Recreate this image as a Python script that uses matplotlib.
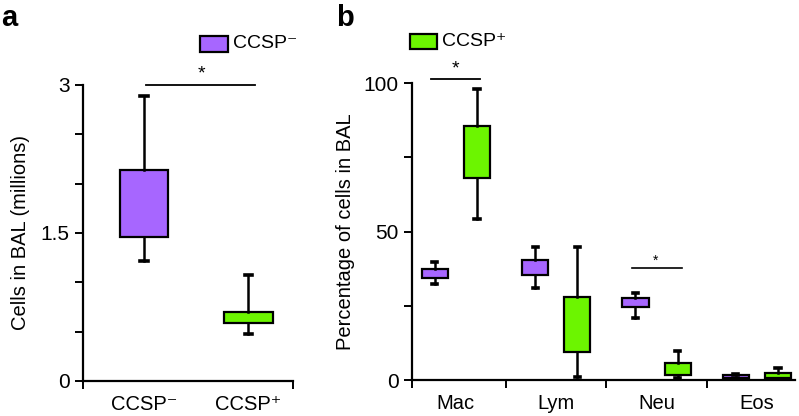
import matplotlib
matplotlib.use('Agg')
import matplotlib.pyplot as plt
from matplotlib.patches import Rectangle

plt.rcParams['font.family'] = ['Liberation Sans', 'DejaVu Sans']

PURPLE = '#A766FF'
GREEN = '#6CF500'

# panel a: total cells (millions)
a_groups = ['CCSP\u207b', 'CCSP\u207a']
a_whislo = [1.22, 0.48]
a_q1 = [1.46, 0.59]
a_q3 = [2.14, 0.70]
a_whishi = [2.89, 1.07]

# panel b: percentage of cells per cell type
b_cats = ['Mac', 'Lym', 'Neu', 'Eos']
neg_whislo = [32.3, 31.1, 21.0, 0.6]
neg_q1 = [34.5, 35.3, 24.6, 0.8]
neg_q3 = [37.3, 40.5, 27.5, 1.7]
neg_whishi = [39.7, 44.9, 29.2, 2.0]
pos_whislo = [54.2, 1.1, 0.8, 0.3]
pos_q1 = [68.0, 9.6, 1.7, 0.6]
pos_q3 = [85.6, 28.1, 5.6, 2.2]
pos_whishi = [98.0, 44.9, 9.9, 3.9]


def stats(lo, q1, q3, hi):
    return [dict(whislo=a, q1=b, med=b, q3=c, whishi=d, fliers=[])
            for a, b, c, d in zip(lo, q1, q3, hi)]


def draw_boxes(ax, st, pos, width, color, capfrac):
    bp = ax.bxp(st, positions=pos, widths=width, patch_artist=True,
                showfliers=False, manage_ticks=False,
                boxprops=dict(facecolor=color, edgecolor='black', linewidth=1.6),
                whiskerprops=dict(color='black', linewidth=1.8),
                capprops=dict(color='black', linewidth=2.6),
                medianprops=dict(visible=False))
    for c in bp['caps']:
        x = c.get_xdata()
        m = (x[0] + x[1]) / 2
        c.set_xdata([m - width * capfrac, m + width * capfrac])
    return bp


def style(ax):
    for s in ['top', 'right']:
        ax.spines[s].set_visible(False)
    for s in ['left', 'bottom']:
        ax.spines[s].set_linewidth(1.6)
    ax.tick_params(axis='both', which='both', width=1.4, length=6,
                   labelsize=15, direction='out')


fig = plt.figure(figsize=(7.99, 4.16), dpi=100)

# ---- panel a
ax1 = fig.add_axes([83 / 799, 1 - 381 / 416, 210 / 799, 296 / 416])
xa = list(range(len(a_groups)))
sa = stats(a_whislo, a_q1, a_q3, a_whishi)
draw_boxes(ax1, sa[:1], [xa[0]], 0.46, PURPLE, 0.08)
draw_boxes(ax1, sa[1:], [xa[1]], 0.46, GREEN, 0.08)
ax1.set_xlim(-0.584, 1.426)
ax1.set_ylim(0, 3)
ax1.set_yticks([0, 0.5, 1, 1.5, 2, 2.5, 3])
ax1.set_yticklabels(['0', '', '', '1.5', '', '', '3'])
ax1.set_xticks([-0.584, 1.426])
ax1.set_xticklabels(['', ''])
ax1.set_xticks(xa, minor=True)
ax1.set_xticklabels(a_groups, minor=True)
style(ax1)
ax1.tick_params(axis='x', which='minor', length=0, pad=10, labelsize=14.5)
ax1.set_ylabel('Cells in BAL (millions)', fontsize=14.5, labelpad=8)
ax1.plot([0.02, 1.06], [3.0, 3.0], color='black', lw=1.3, clip_on=False)
ax1.text(0.55, 3.03, '*', ha='center', va='bottom', fontsize=14)

# ---- panel b
ax2 = fig.add_axes([411.7 / 799, 1 - 380 / 416, 383.3 / 799, 296.7 / 416])
xb = list(range(len(b_cats)))
off = 0.21
draw_boxes(ax2, stats(neg_whislo, neg_q1, neg_q3, neg_whishi),
           [x - off for x in xb], 0.26, PURPLE, 0.1)
draw_boxes(ax2, stats(pos_whislo, pos_q1, pos_q3, pos_whishi),
           [x + off for x in xb], 0.26, GREEN, 0.1)
ax2.set_xlim(-0.44, 3.38)
ax2.set_ylim(0, 100)
ax2.set_yticks([0, 25, 50, 75, 100])
ax2.set_yticklabels(['0', '', '50', '', '100'])
ax2.set_xticks([-0.44, 0.5, 1.5, 2.5])
ax2.set_xticklabels(['', '', '', ''])
ax2.set_xticks(xb, minor=True)
ax2.set_xticklabels(b_cats, minor=True)
style(ax2)
ax2.tick_params(axis='x', which='minor', length=0, pad=10, labelsize=14.5)
ax2.set_ylabel('Percentage of cells in BAL', fontsize=14.5, labelpad=6)
ax2.plot([-0.25, 0.24], [101.3, 101.3], color='black', lw=1.3, clip_on=False)
ax2.text(0.0, 102.0, '*', ha='center', va='bottom', fontsize=14)
ax2.plot([1.76, 2.25], [37.8, 37.8], color='black', lw=1.2)
ax2.text(1.99, 37.8, '*', ha='center', va='bottom', fontsize=10)

# legends drawn as patch + text in figure pixels
def legend_entry(x0, y0, w, h, color, label):
    fig.patches.append(Rectangle((x0 / 799, 1 - (y0 + h) / 416), w / 799, h / 416,
                                 transform=fig.transFigure, facecolor=color,
                                 edgecolor='black', linewidth=1.6))
    fig.text((x0 + w + 5) / 799, 1 - (y0 + h / 2) / 416, label,
             ha='left', va='center', fontsize=14)

legend_entry(200, 35.7, 27.7, 16, PURPLE, a_groups[0])
legend_entry(410, 34, 26.7, 15.3, GREEN, a_groups[1])

fig.text(1 / 799, 1 - 18 / 416, 'a', fontsize=21, fontweight='bold', va='center')
fig.text(336 / 799, 1 - 18 / 416, 'b', fontsize=21, fontweight='bold', va='center')

fig.savefig('out.png', dpi=100)
